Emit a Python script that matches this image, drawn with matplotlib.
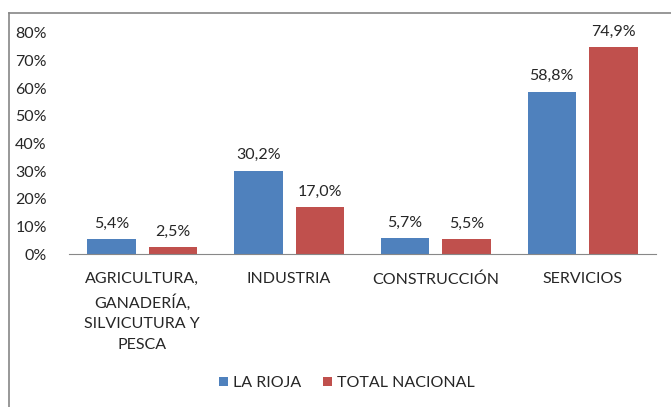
import numpy as np
import matplotlib.pyplot as plt
from matplotlib.lines import Line2D

# === Data ===
categories = ["AGRICULTURA,\nGANADERÍA,\nSILVICUTURA Y\nPESCA", "INDUSTRIA", "CONSTRUCCIÓN", "SERVICIOS"]
la_rioja = [5.4, 30.2, 5.7, 58.8]
total_nacional = [2.5, 17.0, 5.5, 74.9]
series_names = ["LA RIOJA", "TOTAL NACIONAL"]
y_ticks = [0, 10, 20, 30, 40, 50, 60, 70, 80]

blue = "#4F81BD"
red = "#C0504D"
text_color = "#262626"

plt.rcParams['font.family'] = ['Lato', 'DejaVu Sans']
fs = 11.5

fig = plt.figure(figsize=(6.71, 4.07), dpi=100)
ax = fig.add_axes([69 / 671, 1 - 254 / 407, (656 - 69) / 671, (254 - 33) / 407])

x = np.arange(len(categories))
w = 0.33
off = 0.21
b1 = ax.bar(x - off, la_rioja, w, color=blue, label=series_names[0])
b2 = ax.bar(x + off, total_nacional, w, color=red, label=series_names[1])

def fmt(v):
    return f"{v:.1f}%".replace(".", ",")

for bars, vals in [(b1, la_rioja), (b2, total_nacional)]:
    for bar, v in zip(bars, vals):
        ax.annotate(fmt(v), (bar.get_x() + bar.get_width() / 2, v),
                    xytext=(0, 6), textcoords="offset points",
                    ha="center", va="bottom", fontsize=fs, color=text_color)

ax.set_xlim(-0.5, len(categories) - 0.5)
ax.set_ylim(0, 80)
ax.set_yticks(y_ticks)
ax.set_yticklabels([f"{t}%" for t in y_ticks], fontsize=fs, color=text_color)
ax.set_xticks(x)
ax.set_xticklabels(categories, fontsize=fs, color=text_color, linespacing=1.6, va="top")
ax.tick_params(axis="both", length=0)
ax.tick_params(axis="x", pad=13)
ax.tick_params(axis="y", pad=16)

for s in ["top", "right", "left"]:
    ax.spines[s].set_visible(False)
ax.spines["bottom"].set_color("#888888")

leg = fig.legend(loc="center", bbox_to_anchor=(347 / 671, 1 - 383 / 407), ncol=2,
                 frameon=False, fontsize=fs, handlelength=0.55, handleheight=0.55,
                 handletextpad=0.3, columnspacing=1.4)
for t in leg.get_texts():
    t.set_color(text_color)

# outer frame (left and top edges visible)
top = 1 - 12.5 / 407
left = 8.5 / 671
fig.add_artist(Line2D([left, left], [0, top], transform=fig.transFigure, color="#868686", lw=1.2))
fig.add_artist(Line2D([left, 1], [top, top], transform=fig.transFigure, color="#868686", lw=1.2))

fig.savefig("out.png", dpi=100)
